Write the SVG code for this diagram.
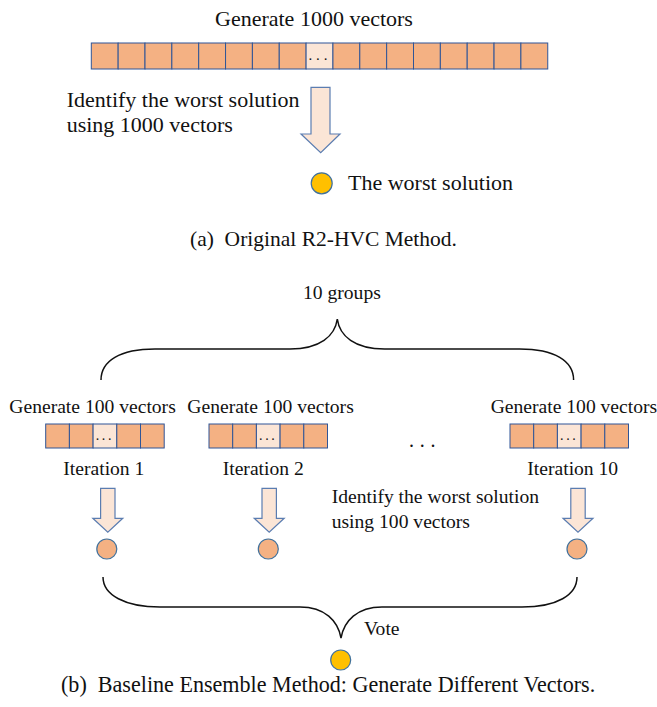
<svg xmlns="http://www.w3.org/2000/svg" width="657" height="707" viewBox="0 0 657 707">
  <style>
    .t { font-family: "Liberation Serif", "Times New Roman", serif; fill: #111; }
    .a { font-size: 22px; }
    .b { font-size: 19.6px; }
    .cell { fill: #F4B183; stroke: #2F5597; stroke-width: 1; }
    .gap { fill: #FBE5D6; stroke: #2F5597; stroke-width: 1; }
    .dots { font-family: "Liberation Serif", serif; fill: #111; }
    .arrow { fill: #FBE5D6; stroke: #5B7DB1; stroke-width: 1.2; stroke-linejoin: miter; }
    .sol { fill: #F4B183; stroke: #41719C; stroke-width: 1.2; }
    .worst { fill: #FFC000; stroke: #41719C; stroke-width: 1.2; }
    .brace { fill: none; stroke: #111; stroke-width: 1.5; }
  </style>
  <defs>
    <!-- one vector cell -->
    <rect id="c" width="26.85" height="26" class="cell"/>
    <rect id="sc" width="23.7" height="24" class="cell"/>
    <!-- five-cell vector strip with ellipsis in the middle -->
    <g id="strip5">
      <use href="#sc" x="0"/>
      <use href="#sc" x="23.7"/>
      <rect x="47.4" width="23.7" height="24" class="gap"/>
      <text x="59.25" y="16" class="dots" font-size="14" text-anchor="middle" letter-spacing="2.7">...</text>
      <use href="#sc" x="71.1"/>
      <use href="#sc" x="94.8"/>
    </g>
    <path id="smallArrow" d="M-7.2,0 H7.2 V30 H15 L0,44 L-15,30 H-7.2 Z" class="arrow"/>
  </defs>

  <!-- (a) Original R2-HVC Method -->
  <g id="a-title">
    <text class="t a" x="215" y="26">Generate 1000 vectors</text>
  </g>
  <g id="a-vectors" transform="translate(91.3,43)">
    <use href="#c" x="0"/>
    <use href="#c" x="26.85"/>
    <use href="#c" x="53.7"/>
    <use href="#c" x="80.55"/>
    <use href="#c" x="107.4"/>
    <use href="#c" x="134.25"/>
    <use href="#c" x="161.1"/>
    <use href="#c" x="187.95"/>
    <rect x="214.8" width="26.85" height="26" class="gap"/>
    <text x="228.6" y="17" class="dots" font-size="15" text-anchor="middle" letter-spacing="3.8">...</text>
    <use href="#c" x="241.65"/>
    <use href="#c" x="268.5"/>
    <use href="#c" x="295.35"/>
    <use href="#c" x="322.2"/>
    <use href="#c" x="349.05"/>
    <use href="#c" x="375.9"/>
    <use href="#c" x="402.75"/>
    <use href="#c" x="429.6"/>
  </g>
  <g id="a-identify">
    <text class="t a" x="66.7" y="106.5">Identify the worst solution</text>
    <text class="t a" x="66.7" y="131.5">using 1000 vectors</text>
  </g>
  <g id="a-arrow">
    <path d="M311,87.3 H330 V134 H340 L320.7,152.7 L301,134 H311 Z" class="arrow"/>
  </g>
  <g id="a-worst">
    <circle cx="321.7" cy="183.3" r="10.5" class="worst"/>
    <text class="t a" x="348" y="190">The worst solution</text>
  </g>
  <g id="a-caption">
    <text class="t" x="190" y="245.5" font-size="21.5" xml:space="preserve">(a)  Original R2-HVC Method.</text>
  </g>

  <!-- (b) Baseline Ensemble Method -->
  <g id="b-groups">
    <text class="t b" x="303" y="299">10 groups</text>
  </g>

  <g id="iter1">
    <text class="t b" x="9.3" y="412.7">Generate 100 vectors</text>
    <use href="#strip5" x="45.7" y="424"/>
    <text class="t b" x="63.3" y="475">Iteration 1</text>
    <use href="#smallArrow" x="107.8" y="488.3"/>
    <circle cx="106.8" cy="549" r="10" class="sol"/>
  </g>
  <g id="iter2">
    <text class="t b" x="187.3" y="412.7">Generate 100 vectors</text>
    <use href="#strip5" x="209" y="424"/>
    <text class="t b" x="222.7" y="475">Iteration 2</text>
    <use href="#smallArrow" x="269.2" y="488.3"/>
    <circle cx="268.3" cy="549" r="10" class="sol"/>
  </g>
  <g id="ellipsis">
    <text class="t" x="409" y="447" font-size="20" letter-spacing="5.8">...</text>
  </g>
  <g id="iter10">
    <text class="t b" x="490.7" y="412.7">Generate 100 vectors</text>
    <use href="#strip5" x="510" y="424"/>
    <text class="t b" x="527.3" y="475">Iteration 10</text>
    <use href="#smallArrow" x="578" y="488.3"/>
    <circle cx="577" cy="549" r="10" class="sol"/>
  </g>
  <g id="b-identify">
    <text class="t b" x="331.7" y="503.3">Identify the worst solution</text>
    <text class="t b" x="331.7" y="528.3">using 100 vectors</text>
  </g>

  <g id="connectors">
    <path class="brace" d="M101,380 C101,361 120,349 155,349 L290,349 C320,349 335,336 337.3,319 C339.6,336 354.6,349 384.6,349 L519.6,349 C554.6,349 573.6,361 573.6,380"/>
    <path class="brace" d="M103,577 C103,595 125,607 160,607 L300,607 C325,607 338,621 341,638 C344,621 357,607 382,607 L522,607 C557,607 577,595 577,577"/>
  </g>

  <g id="b-vote">
    <text class="t b" x="364" y="635">Vote</text>
    <circle cx="340.7" cy="660" r="10" class="worst"/>
  </g>
  <g id="b-caption">
    <text class="t" x="61" y="692" font-size="22.1" xml:space="preserve">(b)  Baseline Ensemble Method: Generate Different Vectors.</text>
  </g>
</svg>
